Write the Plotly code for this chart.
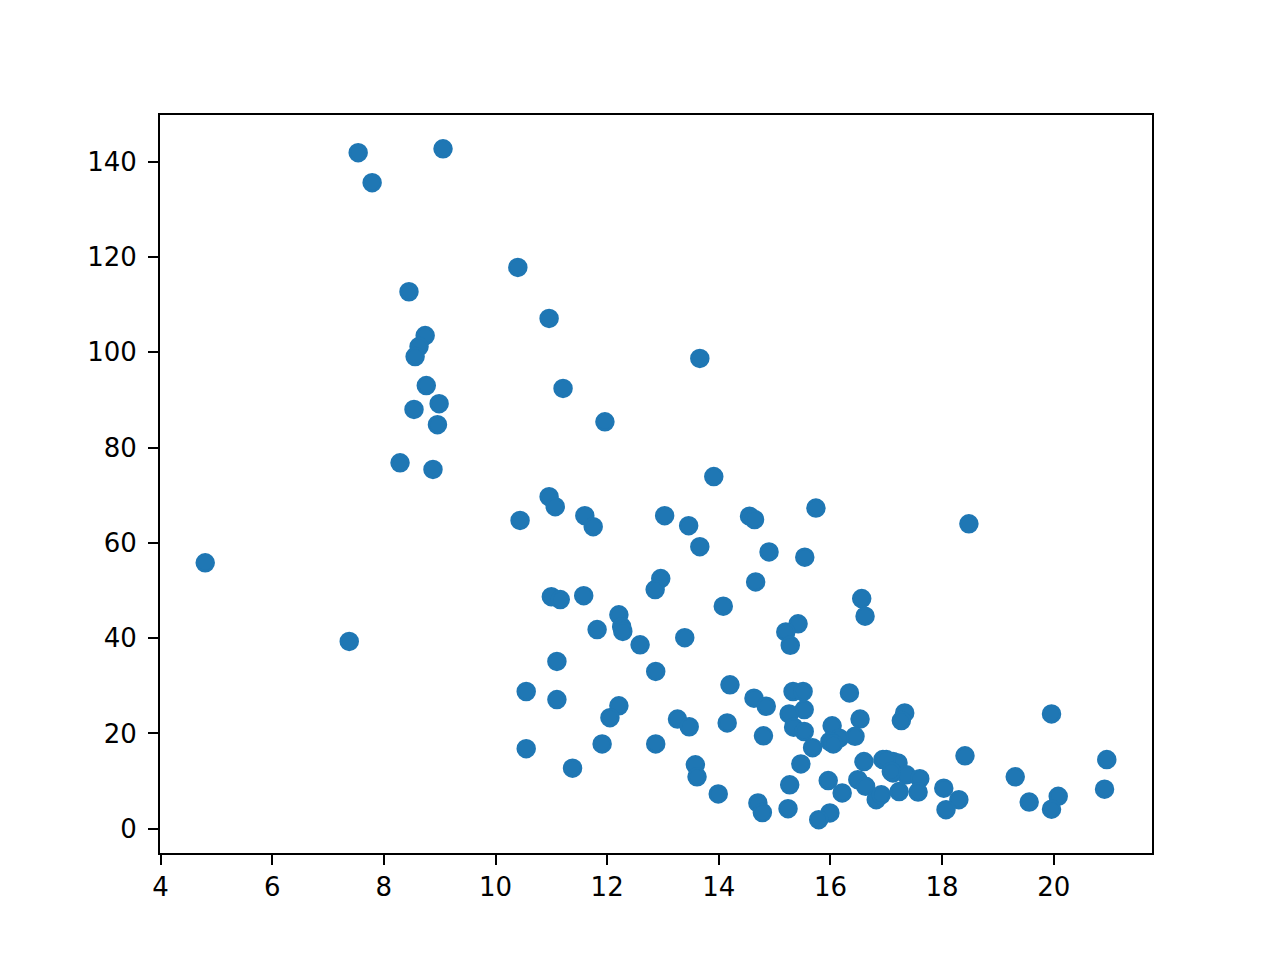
import plotly.graph_objects as go

x_vals = [
    4.80, 7.38, 7.54, 7.79, 9.06, 8.45, 8.74, 8.63, 8.56, 8.76, 8.99, 8.54, 8.96, 8.29, 8.88,
    10.40, 10.96, 11.21, 11.96, 13.66, 13.91, 10.96, 10.44, 11.07, 11.60, 11.75, 13.03, 13.46,
    13.66, 12.96, 12.86, 11.00, 11.16, 11.58, 12.21, 12.26, 12.28, 11.82, 12.59, 13.39, 11.10,
    12.87, 10.55, 11.10, 12.21, 12.05, 13.26, 13.47, 14.15, 14.20, 14.08, 10.55, 11.91, 12.87,
    11.38, 13.58, 13.61, 13.99, 14.55, 14.64, 15.74, 18.48, 14.90, 15.54, 14.66, 16.56, 16.62,
    15.42, 15.20, 15.28, 14.63, 14.85, 15.33, 15.51, 16.34, 15.53, 15.26, 15.34, 15.53, 14.80,
    16.03, 16.53, 17.33, 17.27, 16.44, 16.16, 15.99, 16.05, 15.68, 15.47, 16.60, 16.94, 17.12,
    17.21, 17.12, 17.36, 17.60, 18.41, 15.27, 15.96, 16.49, 16.63, 16.21, 16.82, 16.91, 17.23,
    17.57, 18.03, 18.30, 18.07, 14.70, 14.78, 15.24, 15.99, 15.79, 19.96, 20.95, 19.31, 20.91,
    19.56, 20.08, 19.96, 17.00, 17.09,
]
y_vals = [
    55.8, 39.3, 141.9, 135.6, 142.7, 112.7, 103.5, 101.2, 99.1, 93.0, 89.2, 88.0, 84.8, 76.8, 75.4,
    117.8, 107.1, 92.4, 85.4, 98.7, 73.9, 69.7, 64.7, 67.6, 65.7, 63.4, 65.7, 63.6,
    59.2, 52.5, 50.2, 48.7, 48.1, 48.9, 44.9, 42.4, 41.4, 41.8, 38.6, 40.1, 35.1,
    33.0, 28.8, 27.1, 25.8, 23.3, 23.0, 21.4, 22.2, 30.2, 46.7, 16.8, 17.8, 17.8,
    12.7, 13.4, 10.9, 7.3, 65.6, 64.9, 67.3, 64.0, 58.1, 57.0, 51.8, 48.3, 44.6,
    43.0, 41.3, 38.5, 27.4, 25.7, 28.8, 28.8, 28.5, 25.0, 24.1, 21.3, 20.4, 19.5,
    21.6, 23.0, 24.3, 22.7, 19.4, 19.0, 18.3, 17.8, 17.0, 13.6, 14.1, 14.5, 14.1,
    13.8, 11.7, 11.3, 10.5, 15.3, 9.2, 10.1, 10.3, 8.9, 7.5, 6.1, 7.1, 7.8,
    7.7, 8.5, 6.1, 4.0, 5.4, 3.4, 4.2, 3.3, 1.9, 24.1, 14.5, 10.9, 8.3,
    5.6, 6.8, 4.1, 14.5, 12.0,
]

x_ticks = [4, 6, 8, 10, 12, 14, 16, 18, 20]
y_ticks = [0, 20, 40, 60, 80, 100, 120, 140]

fig = go.Figure(
    go.Scatter(
        x=x_vals, y=y_vals, mode="markers",
        marker=dict(color="#1f77b4", size=17, line=dict(color="#1f77b4", width=2.5)),
    )
)

axis_common = dict(
    showgrid=False, zeroline=False, showline=True, linecolor="black", linewidth=2,
    mirror=True, ticks="outside", ticklen=10, tickwidth=2, tickcolor="black",
    tickfont=dict(family="DejaVu Sans", size=26, color="black"),
)

fig.update_layout(
    width=1280, height=960,
    margin=dict(l=152, r=136, t=107, b=115),
    paper_bgcolor="white", plot_bgcolor="white",
    showlegend=False,
    xaxis=dict(range=[3.99, 21.76], tickvals=x_ticks, ticktext=[str(v) for v in x_ticks], **axis_common),
    yaxis=dict(range=[-5.1, 149.8], tickvals=y_ticks, ticktext=[str(v) for v in y_ticks],
               ticklabelstandoff=6, **axis_common),
)

fig.write_html("out.html")
